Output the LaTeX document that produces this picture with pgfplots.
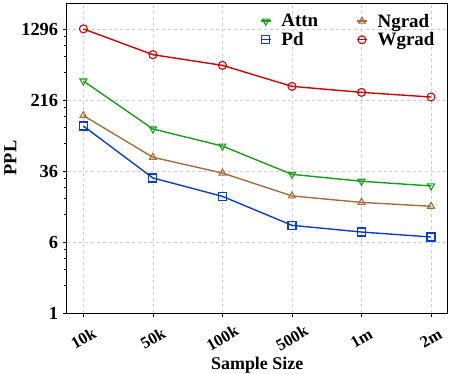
\documentclass[border=0pt]{standalone}
\usepackage{fontspec}
\setmainfont{Liberation Serif}
\usepackage{pgfplots}
\pgfplotsset{compat=1.18}

\definecolor{cattn}{RGB}{20,160,20}
\definecolor{cpd}{RGB}{10,60,210}
\definecolor{cngrad}{RGB}{168,108,58}
\definecolor{cwgrad}{RGB}{215,0,0}

\begin{document}
\begin{tikzpicture}
\begin{axis}[
  scale only axis, width=381bp, height=310bp,
  ymode=log,
  ymin=1, ymax=2500,
  xmin=-0.24, xmax=5.24,
  xtick=data,
  xticklabels={10k,50k,100k,500k,1m,2m},
  ytick={1,6,36,216,1296},
  yticklabels={1,6,36,216,1296},
  minor ytick={2,3,4,5,12,18,24,30,72,108,144,180,432,648,864,1080},
  tick align=outside, xtick pos=bottom, ytick pos=left,
  major tick length=4bp, minor tick length=2.5bp,
  tick style={black, line width=0.8pt},
  axis line style={line width=0.9pt},
  font=\bfseries\fontsize{18.5}{21}\selectfont,
  x tick label style={font=\bfseries\fontsize{16.5}{19}\selectfont, yshift=-21bp, rotate=30, anchor=center},
  y tick label style={xshift=-1bp},
  xlabel={Sample Size}, ylabel={PPL},
  xlabel style={font=\bfseries\fontsize{18}{20}\selectfont, at={(0.5,0)}, anchor=center, yshift=-52bp},
  ylabel style={font=\bfseries\fontsize{18.5}{20}\selectfont, yshift=-2bp},
  xmajorgrids, ymajorgrids,
  grid style={gray!40, dashed, line width=0.6pt},
  legend columns=2, transpose legend, legend cell align=left,
  legend style={at={(0.507,0.972)}, anchor=north west, draw=none, fill=none,
    inner sep=0pt, font=\bfseries\fontsize{19}{21}\selectfont,
    row sep=0bp,
    /tikz/every odd column/.append style={column sep=8bp},
    /tikz/every even column/.append style={column sep=36bp}},
  legend image code/.code={
    \draw[#1, line width=1.4pt] (0bp,0bp) -- (10bp,0bp);
    \draw[#1, only marks, fill=white] plot coordinates {(5bp,0bp)};
  },
  every axis plot/.append style={line width=1.4pt, mark size=4bp},
]
\addplot[color=cattn, mark=triangle, mark options={fill=white, solid, line width=1.1pt, rotate=180}] coordinates {
  (0,349) (1,104) (2,67.6) (3,33.1) (4,27.8) (5,24.7)};
\addplot[color=cpd, mark=square, mark options={fill=white, solid, line width=1.1pt}] coordinates {
  (0,112) (1,30.2) (2,19.0) (3,9.14) (4,7.72) (5,6.81)};
\addplot[color=cngrad, mark=triangle, mark options={fill=white, solid, line width=1.1pt}] coordinates {
  (0,146) (1,50.9) (2,34.2) (3,19.2) (4,16.3) (5,14.8)};
\addplot[color=cwgrad, mark=o, mark options={fill=white, solid, line width=1.1pt}] coordinates {
  (0,1300) (1,678) (2,518) (3,305) (4,262) (5,233)};
\legend{Attn,Pd,Ngrad,Wgrad}
\end{axis}
\pgfresetboundingbox
\path[use as bounding box] (-66.7bp,-61bp) rectangle (383.3bp,313bp);
\end{tikzpicture}
\end{document}
